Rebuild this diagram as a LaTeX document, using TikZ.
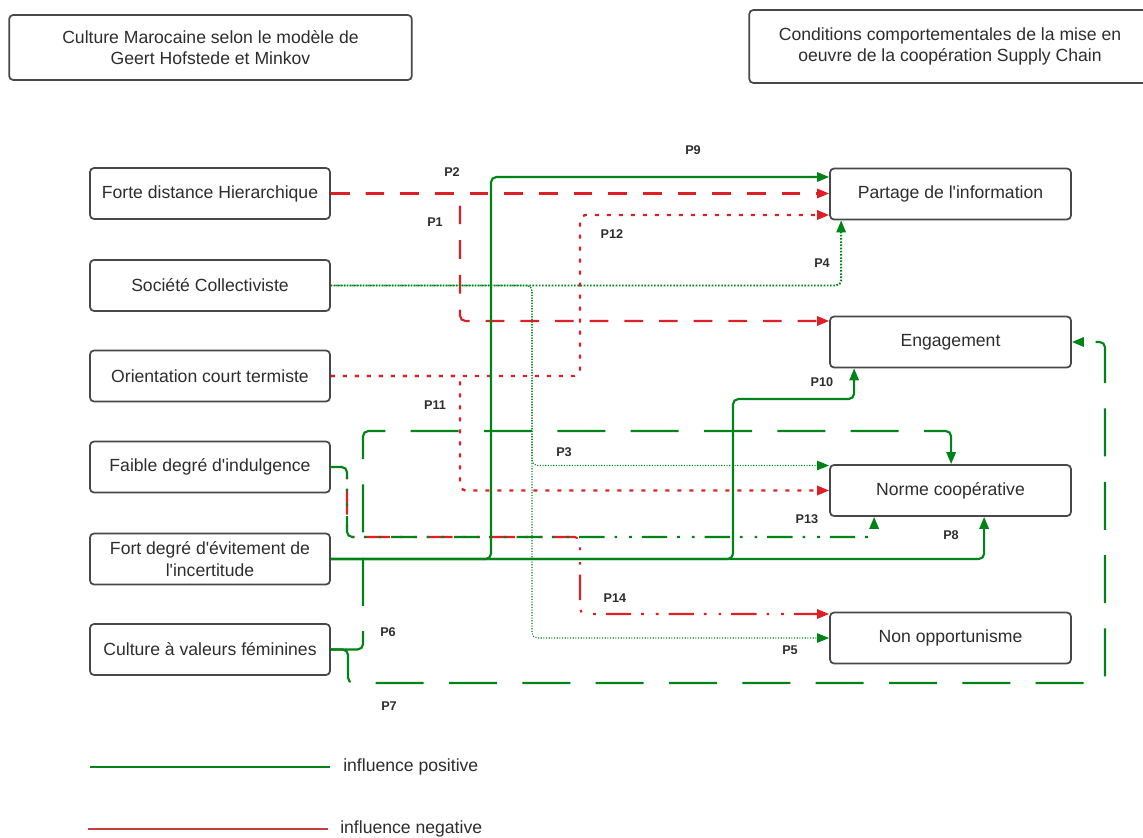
\documentclass[tikz,border=0pt]{standalone}
\usepackage{fontspec}
\setmainfont{Liberation Sans}
\usetikzlibrary{arrows.meta}
\definecolor{pgreen}{RGB}{0,132,24}
\definecolor{nred}{RGB}{222,32,38}
\definecolor{legred}{RGB}{200,60,60}
\definecolor{boxline}{RGB}{72,72,72}
\definecolor{txt}{RGB}{45,45,45}
\newcommand{\apo}{\textquotesingle}
\begin{document}
\begin{tikzpicture}[x=0.75pt,y=-0.75pt,
  box/.style={draw=boxline, line width=1.3pt, rounded corners=3pt, minimum width=180pt, minimum height=38.25pt, align=center, text=txt, inner sep=0pt, font=\fontsize{13.2pt}{16pt}\selectfont},
  rbox/.style={box, minimum width=180.75pt},
  ttlbox/.style={box},
  lbl/.style={font=\bfseries\fontsize{9.5pt}{11pt}\selectfont, text=txt, inner sep=1pt},
  legtxt/.style={font=\fontsize{13.2pt}{16pt}\selectfont, text=txt, inner sep=0pt, anchor=west},
  conn/.style={line width=1.6pt, rounded corners=4pt},
  arr/.style={-{Triangle[length=9pt,width=7pt]}},
  posline/.style={conn, draw=pgreen, arr},
  negline/.style={conn, draw=nred, arr},
  ndash/.style={dash pattern=on 14pt off 12pt},
  ndot/.style={line width=1.8pt, dash pattern=on 3pt off 6pt},
  gdot/.style={line width=1.4pt, dash pattern=on 1.2pt off 1.2pt},
  gthin/.style={line width=0.8pt, dash pattern=on 0.8pt off 1.2pt},
  dashdot/.style={dash pattern=on 19pt off 7.5pt on 2pt off 9pt on 2pt off 7.5pt},
  glong/.style={dash pattern=on 36pt off 19pt}
]
\clip (0,0) rectangle (1143,838);

% titles
\node[ttlbox, minimum width=302pt, minimum height=48.75pt] (t1) at (210.5,47.5) {Culture Marocaine selon le modèle de\\Geert Hofstede et Minkov};
\node[ttlbox, minimum width=301pt, minimum height=54.75pt] (t2) at (950,46.5) {Conditions comportementales de la mise en\\oeuvre de la coopération Supply Chain};

% left boxes
\node[box] (fdh) at (210,193.5) {Forte distance Hierarchique};
\node[box] (sc)  at (210,285.5) {Société Collectiviste};
\node[box] (oct) at (210,376) {Orientation court termiste};
\node[box] (fdi) at (210,467) {Faible degré d\apo indulgence};
\node[box] (fde) at (210,559) {Fort degré d\apo évitement de\\l\apo incertitude};
\node[box] (cvf) at (210,649.5) {Culture à valeurs féminines};

% right boxes
\node[rbox] (pdi) at (950.5,194) {Partage de l\apo information};
\node[rbox] (eng) at (950.5,342) {Engagement};
\node[rbox] (nc)  at (950.5,490.5) {Norme coopérative};
\node[rbox] (no)  at (950.5,638) {Non opportunisme};

% waypoints
\coordinate (x460) at (460,0);
\coordinate (x491) at (491,0);
\coordinate (x532) at (532,0);
\coordinate (x580) at (580,0);
\coordinate (x733) at (733,0);
\coordinate (x347) at (347,0);
\coordinate (x348) at (348,0);
\coordinate (x363) at (363,0);
\coordinate (x1105) at (1105,0);
\coordinate (y399) at (0,399);
\coordinate (y431) at (0,431);
\coordinate (y537) at (0,537);
\coordinate (y683) at (0,683);

% end points
\coordinate (e9)  at ([yshift=12.75pt]pdi.west);
\coordinate (e12) at ([yshift=-15.75pt]pdi.west);
\coordinate (e4)  at ([xshift=9pt]pdi.south west);
\coordinate (e1)  at ([yshift=15.75pt]eng.west);
\coordinate (e10) at ([xshift=18.75pt]eng.south west);
\coordinate (e3)  at ([yshift=18.75pt]nc.west);
\coordinate (e13) at ([xshift=33.75pt]nc.south west);
\coordinate (e8)  at ([xshift=116.25pt]nc.south west);
\coordinate (e6)  at ([xshift=91.5pt]nc.north west);
\coordinate (e14) at ([yshift=18pt]no.west);

% long dashed green (P6, P7)
\draw[posline, glong] (cvf.east) -| (x363 |- y431) -| (e6);
\draw[posline, glong] (cvf.east) -| (x348 |- y683) -| (x1105 |- eng.east) -- (eng.east);

% red dashed (P1, P2)
\draw[negline, ndash] (fdh.east) -- (fdh.east -| pdi.west);
\draw[negline, ndash] (fdh.east) -| (x460 |- e1) -- (e1);

% red dotted (P11, P12)
\draw[negline, ndot] (oct.east) -| (x580 |- e12) -- (e12);
\draw[negline, ndot] (oct.east) -| (x460 |- nc.west) -- (nc.west);

% green dotted (P4, P3, P5)
\draw[posline, gdot] (sc.east) -| (e4);
\draw[posline, gthin] (sc.east) -| (x532 |- e3) -- (e3);
\draw[posline, gthin] (sc.east) -| (x532 |- no.west) -- (no.west);

% dash-dot (P14, P13)
\draw[negline, dashdot, dash phase=20pt] (fdi.east) -| (x347 |- y537) -| (x580 |- e14) -- (e14);
\draw[posline, dashdot] (fdi.east) -| (x347 |- y537) -| (e13);

% solid green (P9, P10, P8)
\draw[posline] (fde.east) -| (x491 |- e9) -- (e9);
\draw[posline] (fde.east) -| (x733 |- y399) -| (e10);
\draw[posline] (fde.east) -| (e8);

% labels
\node[lbl] (p2)  at (452,172) {P2};
\node[lbl] (p1)  at (435,222) {P1};
\node[lbl] (p9)  at (693,150) {P9};
\node[lbl] (p12) at (612,234) {P12};
\node[lbl] (p4)  at (822,263) {P4};
\node[lbl] (p11) at (435,405) {P11};
\node[lbl] (p10) at (822,382) {P10};
\node[lbl] (p3)  at (564,452) {P3};
\node[lbl] (p13) at (807,519) {P13};
\node[lbl] (p8)  at (951,535) {P8};
\node[lbl] (p14) at (615,598) {P14};
\node[lbl] (p5)  at (790,650) {P5};
\node[lbl] (p6)  at (388,632) {P6};
\node[lbl] (p7)  at (389,706) {P7};

% legend
\coordinate (lg1a) at (90,767);
\coordinate (lg1b) at (330,767);
\coordinate (lg2a) at (88,829);
\coordinate (lg2b) at (328,829);
\draw[pgreen, line width=1.3pt] (lg1a) -- (lg1b);
\draw[legred, line width=1.3pt] (lg2a) -- (lg2b);
\node[legtxt] (lt1) at (343,767) {influence positive};
\node[legtxt] (lt2) at (340,829) {influence negative};
\end{tikzpicture}
\end{document}
